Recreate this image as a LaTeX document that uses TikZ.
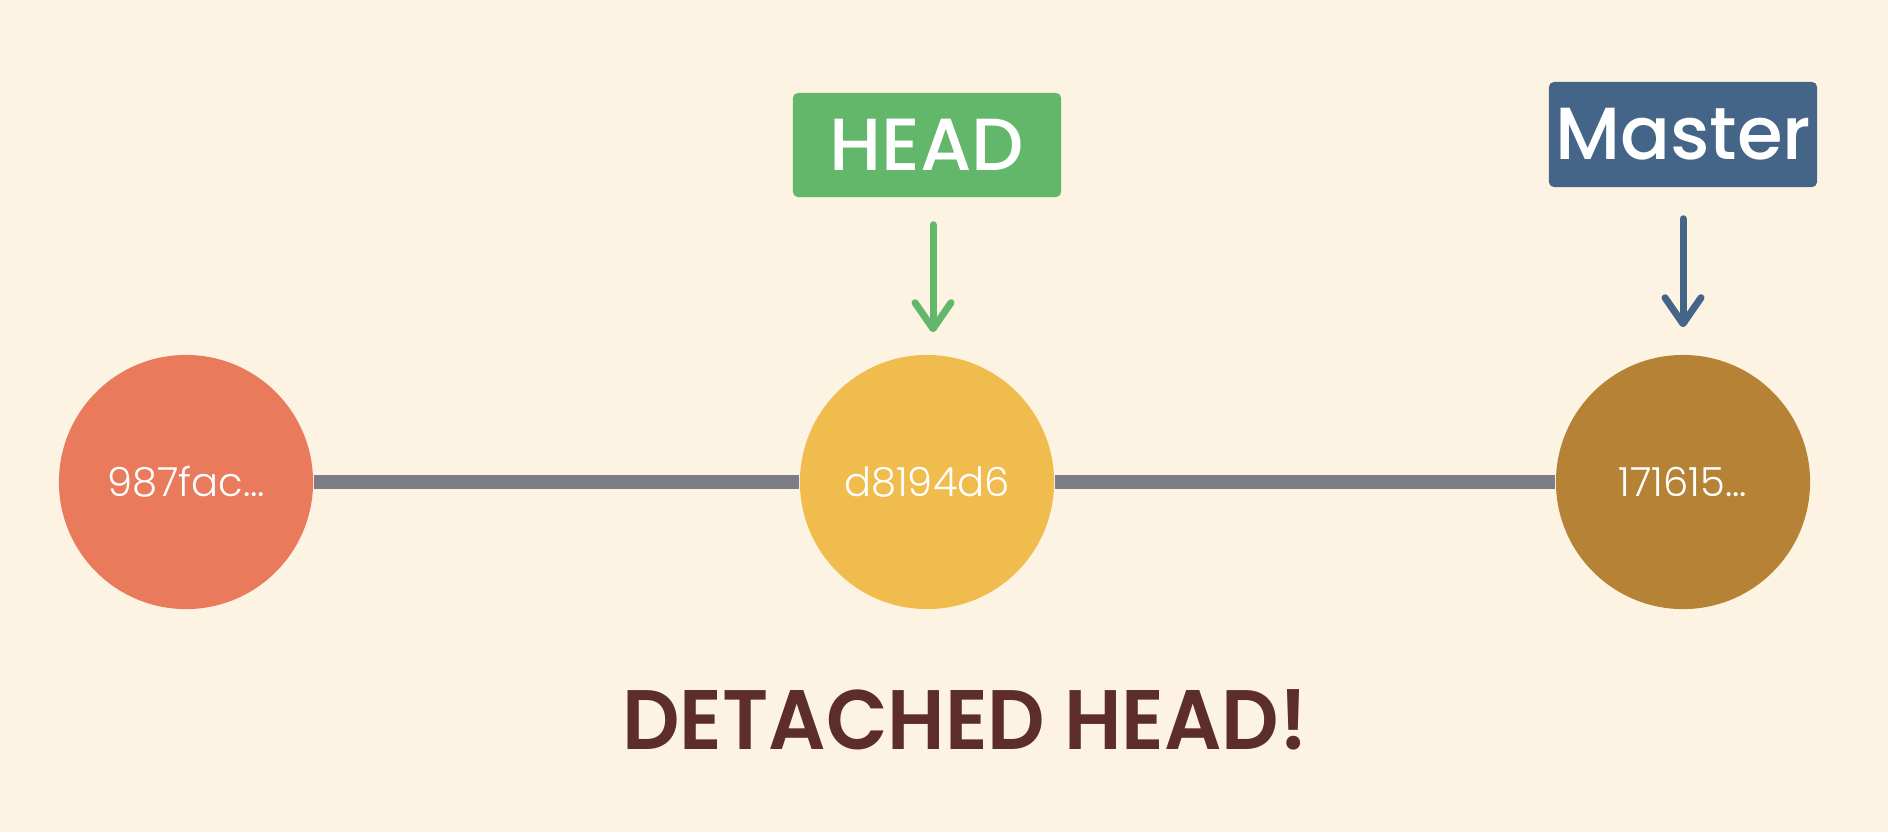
\documentclass[tikz,border=0pt]{standalone}
\usepackage{fontspec}
\setmainfont{Poppins}
\newfontfamily\hashfont{Poppins Light}
\newfontfamily\titlefont{Poppins SemiBold}
\newfontfamily\reffont{Poppins Medium}
\usepackage{tikz}
\usetikzlibrary{arrows.meta}

\definecolor{paper}{HTML}{FCF3E3}
\definecolor{oldc}{HTML}{E97A5B}
\definecolor{headc}{HTML}{F0BC4E}
\definecolor{tipc}{HTML}{B58236}
\definecolor{headbox}{HTML}{63B76A}
\definecolor{masterbox}{HTML}{446587}
\definecolor{branchline}{HTML}{7C7D87}
\definecolor{warnc}{HTML}{5C2D2B}

\tikzset{
	commit/.style={circle, minimum size=2.54cm, inner sep=0pt, text=white, font=\hashfont\fontsize{11.4}{12}\selectfont},
	refbox/.style={rectangle, rounded corners=0.05cm, minimum width=2.68cm, minimum height=1.05cm, inner sep=0pt, text=white, font=\reffont\fontsize{21}{22}\selectfont},
	branch/.style={line width=0.14cm, color=branchline},
	pointer/.style={line width=0.07cm, line cap=round, -{Straight Barb[length=0.26cm, width=0.36cm, line cap=round, line join=round]}},
}

\begin{document}
\begin{tikzpicture}[x=0.01cm, y=-0.01cm]
		%%%%% START %%%%%
		
		\fill[paper] (0, 0) rectangle (1888, 832);
		\useasboundingbox (0, 0) rectangle (1888, 832);
		
		\node[commit, fill=oldc] (c1) at (186, 482) {987fac...};
		\node[commit, fill=headc] (c2) at (927, 482) {d8194d6};
		\node[commit, fill=tipc] (c3) at (1683, 482) {171615...};
		
		\draw[branch] (c1) -- (c2);
		\draw[branch] (c2) -- (c3);
		
		\node[refbox, fill=headbox, minimum height=1.04cm] (head) at (927, 145) {HEAD};
		\node[refbox, fill=masterbox] (master) at (1683, 134.5) {Master};
		
		\draw[pointer, color=headbox, shorten <=0.27cm, shorten >=0.22cm] ([xshift=0.06cm]head.south) -- ([xshift=0.06cm]c2.north);
		\draw[pointer, color=masterbox, shorten <=0.31cm, shorten >=0.27cm] (master.south) -- (c3.north);
		
		\node[color=warnc, font=\titlefont\fontsize{24}{26}\selectfont] (warn) at (965, 719.5) {\scalebox{0.95}[1]{DETACHED HEAD!}};
		
		%%%%% END %%%%%
	\end{tikzpicture}
\end{document}
